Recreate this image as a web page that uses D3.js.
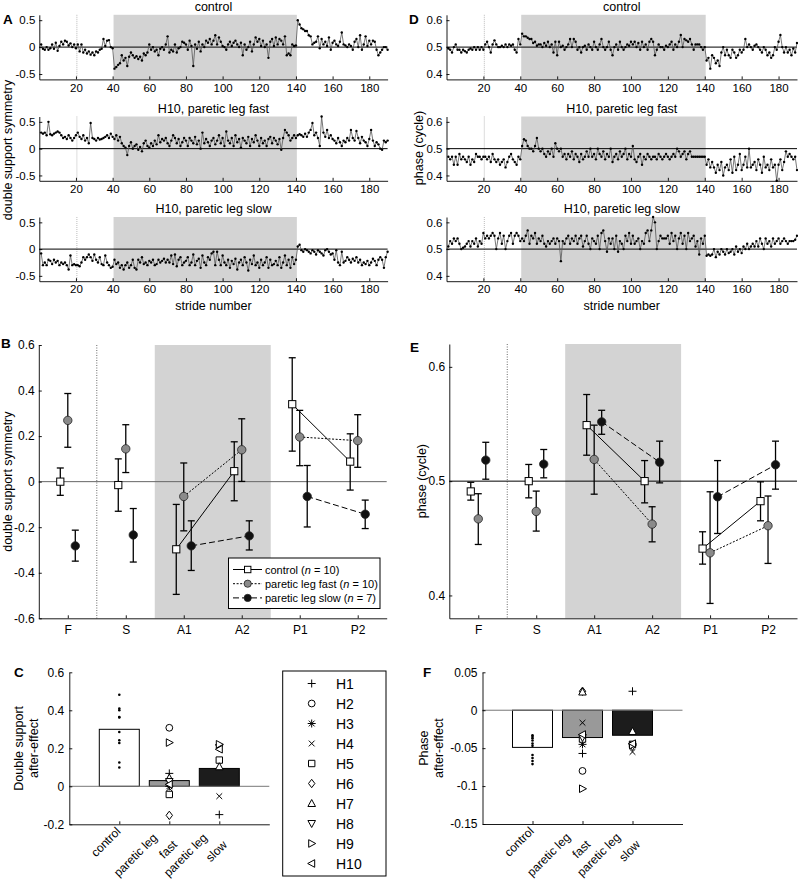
<!DOCTYPE html>
<html><head><meta charset="utf-8">
<script src="https://cdn.jsdelivr.net/npm/d3@7"></script>
<style>body{margin:0;background:#fff}text{font-family:"Liberation Sans",Arial,Helvetica,sans-serif;fill:#000}</style>
</head><body><svg id="c" width="798" height="883"></svg>
<script>
// ---------- DATA ----------
const strideTicks = [20,40,60,80,100,120,140,160,180];
const dsTicks = [-0.5,0,0.5];
const phTicks = [0.4,0.5,0.6];
const tsTitles = ["control","H10, paretic leg fast","H10, paretic leg slow"];

const dsControl = [0.05,-0.03,-0.05,0.0,-0.05,-0.02,0.05,-0.03,0.08,-0.07,0.02,0.1,0.05,0.12,0.1,0.03,0.07,0.0,0.05,-0.02,
0.05,-0.08,0.05,-0.1,-0.05,-0.12,-0.08,-0.14,-0.1,-0.15,-0.08,-0.1,-0.05,-0.03,0.15,0.02,0.12,0.13,0.0,-0.02,
-0.4,-0.37,-0.33,-0.3,-0.15,-0.25,-0.2,-0.35,-0.18,-0.1,-0.15,-0.2,-0.17,-0.22,-0.18,-0.25,-0.12,-0.15,-0.1,0.05,
-0.05,0.0,-0.08,-0.05,-0.15,-0.03,0.0,-0.05,0.05,0.2,-0.1,-0.05,-0.08,0.05,-0.1,-0.02,0.0,0.1,0.08,0.05,
-0.05,0.12,0.02,-0.35,0.05,-0.03,0.1,-0.08,0.05,0.0,0.12,0.08,0.15,0.05,0.12,0.22,0.05,0.18,0.1,0.02,
0.0,-0.05,0.05,0.1,0.02,0.08,0.12,0.05,0.0,0.08,-0.15,0.05,-0.05,0.0,0.1,-0.08,0.05,0.18,0.1,0.15,
0.02,0.12,0.0,0.05,-0.2,0.1,0.15,0.02,0.18,0.05,0.15,0.12,0.05,0.2,-0.15,-0.12,-0.15,0.05,0.02,0.03,
0.5,0.42,0.35,0.33,0.3,0.3,0.22,0.2,0.05,0.08,0.1,0.2,-0.02,0.15,0.05,0.1,0.02,0.18,-0.05,0.08,
0.12,0.05,0.02,0.1,0.27,0.05,0.03,0.0,0.05,0.02,-0.05,0.1,0.15,0.0,0.22,-0.05,0.05,0.2,0.02,0.12,
0.05,0.12,0.1,-0.05,-0.15,-0.1,-0.05,0.0,0.0,-0.05];

const dsFast = [0.3,0.28,0.3,0.25,0.5,0.27,0.25,0.28,0.3,0.32,0.3,0.25,0.2,0.22,0.18,0.25,0.2,0.15,0.2,0.25,
0.3,0.22,0.18,0.25,0.15,0.2,0.1,0.48,0.2,0.18,0.15,0.2,0.17,0.18,0.2,0.22,0.25,0.2,0.28,0.22,
0.18,0.25,0.15,0.22,0.1,0.05,0.02,-0.12,0.05,0.12,0.0,0.05,0.08,-0.02,0.03,-0.05,0.1,0.15,0.05,0.02,
0.1,0.05,0.15,0.08,0.25,0.12,0.18,0.15,0.2,0.1,0.05,0.15,0.25,0.2,0.1,0.18,0.05,0.12,0.2,0.15,
0.05,0.2,0.15,0.1,0.22,0.08,0.15,0.0,0.3,0.1,0.18,0.12,0.05,0.15,0.2,0.08,0.15,0.25,0.1,0.2,
0.05,0.32,0.15,0.1,0.2,0.05,0.25,0.12,0.18,0.02,0.2,0.15,0.1,0.22,0.05,0.18,0.12,0.25,0.15,0.05,
0.2,0.1,0.15,0.05,0.18,0.22,0.1,0.2,0.15,0.08,0.18,-0.02,0.2,0.35,0.3,0.25,0.15,0.2,0.25,0.2,
0.25,0.27,0.25,0.22,0.28,0.22,0.3,0.35,0.48,0.25,0.3,0.2,0.05,0.6,0.3,0.22,0.35,0.2,0.25,0.18,
0.15,0.1,0.2,0.12,0.05,0.15,0.12,0.2,0.15,0.35,0.2,0.15,0.33,0.2,0.1,0.22,0.15,0.12,0.05,0.18,
0.35,0.15,0.05,0.12,0.08,0.0,-0.02,0.15,0.12,0.15];

const dsSlow = [-0.08,-0.3,-0.25,-0.3,-0.2,-0.22,-0.28,-0.2,-0.25,-0.22,-0.3,-0.25,-0.28,-0.25,-0.3,-0.38,-0.12,-0.3,-0.28,-0.3,
-0.3,-0.32,-0.25,-0.15,-0.2,-0.15,-0.1,-0.15,-0.22,-0.1,-0.2,-0.25,-0.15,-0.28,-0.3,-0.12,-0.25,-0.3,-0.35,-0.33,
-0.2,-0.28,-0.25,-0.35,-0.3,-0.38,-0.3,-0.25,-0.35,-0.3,-0.2,-0.35,-0.38,-0.2,-0.25,-0.15,-0.28,-0.25,-0.3,-0.22,
-0.25,-0.2,-0.3,-0.28,-0.2,-0.25,-0.22,-0.18,-0.25,-0.2,-0.25,-0.12,-0.28,-0.1,-0.32,-0.2,-0.15,-0.3,-0.25,-0.22,
-0.15,-0.3,-0.25,-0.1,-0.3,-0.22,-0.18,-0.35,-0.12,-0.25,-0.3,-0.15,-0.2,-0.08,-0.05,-0.3,-0.05,-0.2,-0.3,-0.12,
-0.25,-0.3,-0.2,-0.35,-0.22,-0.28,-0.18,-0.38,-0.25,-0.2,-0.3,-0.15,-0.25,-0.4,-0.2,-0.28,-0.12,-0.3,-0.25,-0.35,
-0.2,-0.3,-0.25,-0.15,-0.35,-0.2,-0.3,-0.28,-0.22,-0.3,-0.15,-0.35,-0.25,-0.12,-0.3,-0.2,-0.35,-0.15,-0.28,-0.2,
0.05,0.08,-0.02,-0.05,0.0,-0.02,-0.05,-0.08,-0.02,-0.05,-0.1,-0.02,-0.05,-0.08,-0.12,-0.02,0.0,-0.05,-0.1,-0.08,
-0.2,-0.02,-0.25,-0.3,-0.05,-0.25,-0.22,-0.15,-0.2,-0.25,-0.18,-0.22,-0.15,-0.25,-0.2,-0.3,-0.25,-0.28,-0.22,-0.3,
-0.25,-0.18,-0.22,-0.3,-0.2,-0.15,-0.2,-0.35,-0.15,-0.05];

const phControl = [0.495,0.49,0.48,0.5,0.51,0.49,0.49,0.48,0.49,0.485,0.48,0.49,0.495,0.49,0.5,0.49,0.5,0.49,0.5,0.49,
0.51,0.52,0.5,0.48,0.51,0.525,0.51,0.5,0.5,0.505,0.5,0.51,0.5,0.51,0.505,0.51,0.49,0.48,0.53,0.51,
0.55,0.54,0.54,0.535,0.53,0.53,0.515,0.52,0.505,0.51,0.51,0.5,0.515,0.505,0.52,0.5,0.51,0.48,0.52,0.47,
0.52,0.5,0.505,0.49,0.5,0.51,0.53,0.5,0.53,0.52,0.49,0.5,0.48,0.5,0.505,0.49,0.51,0.5,0.49,0.52,
0.5,0.49,0.51,0.53,0.5,0.49,0.5,0.52,0.49,0.47,0.5,0.51,0.49,0.52,0.5,0.49,0.5,0.51,0.505,0.52,
0.51,0.52,0.5,0.515,0.49,0.52,0.5,0.51,0.49,0.52,0.53,0.52,0.47,0.49,0.51,0.5,0.5,0.49,0.505,0.5,
0.51,0.52,0.49,0.51,0.5,0.52,0.545,0.5,0.53,0.525,0.52,0.53,0.51,0.49,0.51,0.51,0.51,0.5,0.49,0.5,
0.45,0.46,0.42,0.47,0.46,0.44,0.45,0.43,0.48,0.5,0.47,0.49,0.47,0.46,0.49,0.48,0.46,0.47,0.49,0.48,
0.49,0.53,0.5,0.51,0.5,0.49,0.505,0.51,0.5,0.49,0.48,0.5,0.49,0.47,0.48,0.46,0.47,0.5,0.49,0.52,
0.545,0.5,0.48,0.5,0.48,0.49,0.47,0.495,0.48,0.515];

const phFast = [0.47,0.46,0.47,0.44,0.47,0.44,0.48,0.46,0.47,0.46,0.45,0.47,0.44,0.46,0.45,0.48,0.47,0.47,0.46,0.47,
0.47,0.46,0.47,0.45,0.48,0.46,0.45,0.46,0.44,0.45,0.46,0.43,0.45,0.47,0.48,0.46,0.45,0.44,0.47,0.46,
0.51,0.535,0.53,0.51,0.5,0.5,0.49,0.51,0.54,0.5,0.49,0.5,0.48,0.47,0.49,0.48,0.5,0.47,0.52,0.5,
0.49,0.5,0.47,0.48,0.46,0.48,0.47,0.49,0.46,0.48,0.47,0.45,0.48,0.46,0.47,0.49,0.47,0.5,0.47,0.48,
0.46,0.5,0.48,0.47,0.49,0.46,0.48,0.47,0.5,0.45,0.47,0.48,0.46,0.49,0.47,0.48,0.5,0.46,0.48,0.47,
0.51,0.46,0.45,0.47,0.48,0.44,0.47,0.46,0.48,0.47,0.46,0.47,0.47,0.46,0.48,0.47,0.46,0.47,0.48,0.47,
0.46,0.47,0.48,0.47,0.5,0.49,0.47,0.48,0.49,0.46,0.48,0.49,0.47,0.47,0.47,0.47,0.47,0.47,0.47,0.47,
0.44,0.46,0.43,0.45,0.43,0.41,0.44,0.42,0.45,0.4,0.43,0.44,0.42,0.46,0.41,0.47,0.42,0.44,0.48,0.42,
0.44,0.47,0.43,0.5,0.43,0.44,0.45,0.42,0.46,0.44,0.41,0.47,0.43,0.44,0.42,0.46,0.43,0.44,0.38,0.44,
0.46,0.42,0.45,0.49,0.47,0.48,0.47,0.46,0.47,0.42];

const phSlow = [0.51,0.53,0.52,0.54,0.53,0.54,0.52,0.5,0.505,0.51,0.52,0.53,0.51,0.53,0.52,0.54,0.51,0.53,0.52,0.56,
0.54,0.55,0.54,0.55,0.56,0.55,0.5,0.54,0.56,0.52,0.55,0.5,0.53,0.55,0.56,0.52,0.55,0.56,0.55,0.53,
0.54,0.53,0.55,0.57,0.52,0.55,0.54,0.56,0.52,0.54,0.53,0.55,0.52,0.51,0.53,0.52,0.53,0.54,0.52,0.54,
0.53,0.455,0.53,0.52,0.54,0.55,0.52,0.54,0.53,0.55,0.52,0.54,0.55,0.51,0.53,0.55,0.52,0.5,0.54,0.53,
0.52,0.55,0.5,0.56,0.57,0.53,0.49,0.54,0.52,0.54,0.5,0.55,0.49,0.53,0.52,0.5,0.55,0.53,0.56,0.52,
0.55,0.52,0.53,0.54,0.5,0.53,0.52,0.56,0.57,0.53,0.57,0.62,0.6,0.5,0.53,0.55,0.54,0.54,0.54,0.55,
0.52,0.56,0.53,0.55,0.5,0.54,0.56,0.52,0.55,0.5,0.56,0.53,0.54,0.55,0.51,0.53,0.48,0.54,0.52,0.55,
0.475,0.48,0.475,0.48,0.5,0.47,0.49,0.48,0.5,0.49,0.48,0.5,0.485,0.49,0.5,0.48,0.51,0.49,0.5,0.485,
0.51,0.5,0.52,0.5,0.51,0.52,0.51,0.53,0.51,0.54,0.52,0.5,0.54,0.52,0.53,0.51,0.54,0.52,0.53,0.54,
0.52,0.53,0.54,0.53,0.52,0.53,0.53,0.53,0.535,0.55];

// Panels B / E: group means and error-bar ends
const phases = ["F","S","A1","A2","P1","P2"];
const grpNames = ["control","paretic leg fast","paretic leg slow"];
const grpN = [10,10,7];
const bControlMean = [0.00,-0.015,-0.297,0.046,0.34,0.088];
const bControlHi   = [0.06,0.10,-0.10,0.175,0.544,0.21];
const bControlLo   = [-0.06,-0.13,-0.495,-0.084,0.134,-0.037];
const bFastMean = [0.269,0.144,-0.065,0.14,0.196,0.18];
const bFastHi   = [0.387,0.25,0.082,0.276,0.313,0.294];
const bFastLo   = [0.151,0.04,-0.216,0.001,0.07,0.063];
const bSlowMean = [-0.282,-0.234,-0.282,-0.238,-0.065,-0.143];
const bSlowHi   = [-0.213,-0.118,-0.172,-0.172,0.071,-0.081];
const bSlowLo   = [-0.349,-0.353,-0.39,-0.30,-0.199,-0.206];
const bTicks = [-0.6,-0.4,-0.2,0,0.2,0.4,0.6];

const eControlMean = [0.491,0.5,0.549,0.5,0.441,0.4825];
const eControlHi   = [0.499,0.5146,0.5758,0.518,0.4557,0.4994];
const eControlLo   = [0.4834,0.4854,0.5227,0.481,0.4274,0.4653];
const eFastMean = [0.467,0.4735,0.519,0.4624,0.4373,0.461];
const eFastHi   = [0.489,0.4913,0.549,0.4776,0.4907,0.487];
const eFastLo   = [0.4446,0.4563,0.4886,0.4469,0.393,0.428];
const eSlowMean = [0.5184,0.5149,0.5519,0.5166,0.4863,0.5143];
const eSlowHi   = [0.534,0.5277,0.562,0.535,0.518,0.535];
const eSlowLo   = [0.5017,0.5029,0.541,0.4985,0.4542,0.493];
const eTicks = [0.4,0.5,0.6];

// Panels C / F: after-effects
const aeGroups = [["control"],["paretic leg","fast"],["paretic leg","slow"]];
const subjects = ["H1","H2","H3","H4","H5","H6","H7","H8","H9","H10"];
const slowSubjects = ["H1","H4","H5","H7","H8","H9","H10"];
const cBars = [0.30,0.03,0.094];
const cControlPts = [0.482,0.409,0.40,0.362,0.365,0.286,0.242,0.228,0.125,0.099];
const cFastPts = [0.068,0.308,0.0,-0.01,-0.043,-0.153,0.044,0.025,0.23,0.01];
const cSlowPts = [-0.149,-0.052,0.138,0.103,0.204,0.221,0.195];
const cTicks = [-0.2,0,0.2,0.4,0.6];
const fBars = [-0.049,-0.036,-0.033];
const fControlPts = [-0.033,-0.035,-0.037,-0.04,-0.044,-0.047,-0.059,-0.063,-0.067,-0.071];
const fFastPts = [-0.057,-0.08,-0.045,-0.0165,-0.038,0.025,0.024,-0.036,-0.1035,-0.032];
const fSlowPts = [0.025,-0.055,-0.045,-0.028,-0.048,-0.046,-0.044];
const fTicks = [-0.15,-0.1,-0.05,0,0.05];

// ---------- DRAWING ----------
const svg = d3.select("#c");
const SHADE = "#d3d3d3";
function tickFmt(v){ if (Math.abs(v) < 1e-9) return "0"; return (v<0?"-":"") + String(+Math.abs(v).toFixed(3)); }

function styleAxis(g){
  g.selectAll("path.domain").attr("stroke","#000").attr("stroke-width",0.9);
  g.selectAll(".tick line").attr("stroke","#000").attr("stroke-width",0.9);
  g.selectAll(".tick text").attr("fill","#000").style("font-family",'"Liberation Sans",Arial,sans-serif');
}

function panelLetter(x,y,t){
  svg.append("text").attr("x",x).attr("y",y).attr("font-size",13.5).attr("font-weight","bold").text(t);
}

function timeSeries(o){
  const g = svg.append("g");
  const xs = d3.scaleLinear([0,190],[o.x0,o.x1]);
  const ys = d3.scaleLinear(o.dom,[o.yb,o.yt]);
  g.append("rect").attr("x",xs(40.5)).attr("y",o.yt).attr("width",xs(140.5)-xs(40.5)).attr("height",o.yb-o.yt).attr("fill",SHADE);
  g.append("line").attr("x1",xs(20.5)).attr("x2",xs(20.5)).attr("y1",o.yt).attr("y2",o.yb)
    .attr("stroke","#aaa").attr("stroke-width",0.8).attr("stroke-dasharray","1,1");
  g.append("line").attr("x1",o.x0).attr("x2",o.x1).attr("y1",ys(o.ref)).attr("y2",ys(o.ref)).attr("stroke","#000").attr("stroke-width",1);
  const line = d3.line().x((d,i)=>xs(i+1)).y(d=>ys(d));
  g.append("path").attr("d",line(o.data)).attr("fill","none").attr("stroke","#555").attr("stroke-width",0.8);
  g.selectAll("circle.pt").data(o.data).join("circle").attr("cx",(d,i)=>xs(i+1)).attr("cy",d=>ys(d)).attr("r",1.2).attr("fill","#000");
  const ax = g.append("g").attr("transform",`translate(0,${o.yb})`)
    .call(d3.axisBottom(xs).tickValues(strideTicks).tickSize(-3).tickSizeOuter(0).tickPadding(4));
  ax.selectAll(".tick text").attr("font-size",11.5);
  styleAxis(ax);
  const ay = g.append("g").attr("transform",`translate(${o.x0},0)`)
    .call(d3.axisLeft(ys).tickValues(o.ticks).tickFormat(tickFmt).tickSize(-3).tickSizeOuter(0).tickPadding(4));
  ay.selectAll(".tick text").attr("font-size",11.5);
  styleAxis(ay);
  g.append("text").attr("x",(o.x0+o.x1)/2).attr("y",o.yt-4).attr("text-anchor","middle").attr("font-size",12.5).text(o.title);
  if (o.xlabel) g.append("text").attr("x",(o.x0+o.x1)/2).attr("y",o.yb+29).attr("text-anchor","middle").attr("font-size",12.5).text(o.xlabel);
}

const rows = [[14.8,79.4],[116.5,180.8],[217,281.2]];
const dsSeries = [dsControl,dsFast,dsSlow];
const phSeries = [phControl,phFast,phSlow];
rows.forEach((r,i)=>{
  timeSeries({x0:39.3,x1:387.6,yt:r[0],yb:r[1],dom:[-0.6,0.6],ticks:dsTicks,ref:0,data:dsSeries[i],title:tsTitles[i],xlabel:i===2?"stride number":null});
  timeSeries({x0:446.5,x1:797,yt:r[0],yb:r[1],dom:[0.38,0.62],ticks:phTicks,ref:0.5,data:phSeries[i],title:tsTitles[i],xlabel:i===2?"stride number":null});
});
svg.append("text").attr("transform","translate(12,150) rotate(-90)").attr("text-anchor","middle").attr("font-size",12.5).text("double support symmetry");
svg.append("text").attr("transform","translate(423,148) rotate(-90)").attr("text-anchor","middle").attr("font-size",12.5).text("phase (cycle)");
panelLetter(3,24,"A");
panelLetter(409,24,"D");

function drawGroupMarker(g,type,x,y){
  if (type==="square") g.append("rect").attr("x",x-3.6).attr("y",y-3.6).attr("width",7.2).attr("height",7.2).attr("fill","#fff").attr("stroke","#000").attr("stroke-width",1);
  else g.append("circle").attr("cx",x).attr("cy",y).attr("r",4.2).attr("fill",type==="grey"?"#8a8a8a":"#111").attr("stroke","#222").attr("stroke-width",0.8);
}

function groupPanel(o){
  const g = svg.append("g");
  const xs = d3.scaleLinear([0.5,6.5],[o.x0,o.x1]);
  const ys = d3.scaleLinear(o.dom,[o.yb,o.yt]);
  g.append("rect").attr("x",xs(2.5)).attr("y",o.yt).attr("width",xs(4.5)-xs(2.5)).attr("height",o.yb-o.yt).attr("fill",SHADE);
  g.append("line").attr("x1",xs(1.5)).attr("x2",xs(1.5)).attr("y1",o.yt).attr("y2",o.yb).attr("stroke","#444").attr("stroke-width",0.8).attr("stroke-dasharray","1,1.5");
  g.append("line").attr("x1",o.x0).attr("x2",o.x1).attr("y1",ys(o.ref)).attr("y2",ys(o.ref)).attr("stroke",o.refColor).attr("stroke-width",1);
  const series = o.series;
  series.forEach(s=>{
    [[2,3],[4,5]].forEach(([a,b])=>{
      g.append("line").attr("x1",xs(a+1)+s.off).attr("x2",xs(b+1)+s.off).attr("y1",ys(s.mean[a])).attr("y2",ys(s.mean[b]))
        .attr("stroke","#000").attr("stroke-width",1).attr("stroke-dasharray",s.dash);
    });
  });
  series.forEach(s=>{
    s.mean.forEach((m,i)=>{
      const x = xs(i+1)+s.off;
      g.append("line").attr("x1",x).attr("x2",x).attr("y1",ys(s.hi[i])).attr("y2",ys(s.lo[i])).attr("stroke","#000").attr("stroke-width",1.3);
      [s.hi[i],s.lo[i]].forEach(v=>g.append("line").attr("x1",x-3.5).attr("x2",x+3.5).attr("y1",ys(v)).attr("y2",ys(v)).attr("stroke","#000").attr("stroke-width",1.3));
    });
  });
  series.forEach(s=>{ s.mean.forEach((m,i)=>drawGroupMarker(g,s.type,xs(i+1)+s.off,ys(m))); });
  const ax = g.append("g").attr("transform",`translate(0,${o.yb})`)
    .call(d3.axisBottom(xs).tickValues([1,2,3,4,5,6]).tickFormat((d,i)=>phases[i]).tickSize(-3).tickSizeOuter(0).tickPadding(7));
  ax.selectAll(".tick text").attr("font-size",12);
  styleAxis(ax);
  const ay = g.append("g").attr("transform",`translate(${o.x0},0)`)
    .call(d3.axisLeft(ys).tickValues(o.ticks).tickFormat(tickFmt).tickSize(-3).tickSizeOuter(0).tickPadding(4));
  ay.selectAll(".tick text").attr("font-size",12);
  styleAxis(ay);
  g.append("text").attr("transform",`translate(${o.ylx},${(o.yt+o.yb)/2}) rotate(-90)`).attr("text-anchor","middle").attr("font-size",12.5).text(o.ylabel);
}

const off = 7.5;
groupPanel({x0:38.8,x1:386.7,yt:345,yb:618.3,dom:[-0.6,0.6],ticks:bTicks,ref:0,refColor:"#666",ylx:12,ylabel:"double support symmetry",
  series:[
    {mean:bControlMean,hi:bControlHi,lo:bControlLo,off:-off,type:"square",dash:null},
    {mean:bFastMean,hi:bFastHi,lo:bFastLo,off:0,type:"grey",dash:"2,1.6"},
    {mean:bSlowMean,hi:bSlowHi,lo:bSlowLo,off:off,type:"black",dash:"6,3"}]});
groupPanel({x0:449.3,x1:797,yt:344,yb:618.3,dom:[0.38,0.62],ticks:eTicks,ref:0.5,refColor:"#000",ylx:426,ylabel:"phase (cycle)",
  series:[
    {mean:eControlMean,hi:eControlHi,lo:eControlLo,off:-off,type:"square",dash:null},
    {mean:eFastMean,hi:eFastHi,lo:eFastLo,off:0,type:"grey",dash:"2,1.6"},
    {mean:eSlowMean,hi:eSlowHi,lo:eSlowLo,off:off,type:"black",dash:"6,3"}]});
panelLetter(1,348,"B");
panelLetter(410,352,"E");

// legend B
{
  const lg = svg.append("g");
  lg.append("rect").attr("x",228.5).attr("y",558).attr("width",151.5).attr("height",50.5).attr("fill","#fff").attr("stroke","#000").attr("stroke-width",1);
  const types = ["square","grey","black"], dashes=[null,"2,1.6","6,3"];
  grpNames.forEach((nm,i)=>{
    const y = 569.5 + i*14.2;
    lg.append("line").attr("x1",233).attr("x2",262).attr("y1",y).attr("y2",y).attr("stroke","#000").attr("stroke-width",1).attr("stroke-dasharray",dashes[i]);
    if (types[i]==="square") lg.append("rect").attr("x",244.5).attr("y",y-3.2).attr("width",6.4).attr("height",6.4).attr("fill","#fff").attr("stroke","#000");
    else lg.append("circle").attr("cx",247.7).attr("cy",y).attr("r",3.6).attr("fill",types[i]==="grey"?"#8a8a8a":"#111").attr("stroke","#222").attr("stroke-width",0.8);
    const t = lg.append("text").attr("x",265).attr("y",y+4).attr("font-size",11);
    t.append("tspan").text(nm+" (");
    t.append("tspan").attr("font-style","italic").text("n");
    t.append("tspan").text(" = "+grpN[i]+")");
  });
}

function symPath(k,s){
  const a = s*0.72;
  switch(k){
    case 0: return `M${-s},0H${s}M0,${-s}V${s}`;
    case 2: return `M${-s},0H${s}M0,${-s}V${s}M${-a},${-a}L${a},${a}M${-a},${a}L${a},${-a}`;
    case 3: return `M${-a},${-a}L${a},${a}M${-a},${a}L${a},${-a}`;
    case 4: return `M${-s*0.8},${-s*0.8}H${s*0.8}V${s*0.8}H${-s*0.8}Z`;
    case 5: return `M0,${-s*1.05}L${s*0.8},0L0,${s*1.05}L${-s*0.8},0Z`;
    case 6: return `M0,${-s}L${s*0.95},${s*0.75}L${-s*0.95},${s*0.75}Z`;
    case 7: return `M0,${s}L${s*0.95},${-s*0.75}L${-s*0.95},${-s*0.75}Z`;
    case 8: return `M${s},0L${-s*0.75},${s*0.95}L${-s*0.75},${-s*0.95}Z`;
    case 9: return `M${-s},0L${s*0.75},${s*0.95}L${s*0.75},${-s*0.95}Z`;
  }
}
function drawSym(g,k,x,y,s){
  const open = [4,5,6,7,8,9].includes(k);
  if (k===1) g.append("circle").attr("cx",x).attr("cy",y).attr("r",s*0.85).attr("fill","#fff").attr("stroke","#000").attr("stroke-width",1);
  else g.append("path").attr("transform",`translate(${x},${y})`).attr("d",symPath(k,s)).attr("fill",open?"#fff":"none").attr("stroke","#000").attr("stroke-width",1);
}

function aePanel(o){
  const g = svg.append("g");
  const xs = d3.scaleLinear([0,4],[o.x0,o.x1]);
  const ys = d3.scaleLinear(o.dom,[o.yb,o.yt]);
  const fills = ["#fff","#999","#1c1c1c"];
  o.bars.forEach((v,i)=>{
    g.append("rect").attr("x",xs(i+1-0.4)).attr("width",xs(1.4)-xs(0.6))
      .attr("y",Math.min(ys(v),ys(0))).attr("height",Math.abs(ys(v)-ys(0))).attr("fill",fills[i]).attr("stroke","#000").attr("stroke-width",1);
  });
  g.append("line").attr("x1",o.x0).attr("x2",o.x1).attr("y1",ys(0)).attr("y2",ys(0)).attr("stroke","#777").attr("stroke-width",1);
  o.ctrl.forEach(v=>g.append("circle").attr("cx",xs(1)).attr("cy",ys(v)).attr("r",1.3).attr("fill","#000"));
  o.fast.forEach((v,i)=>drawSym(g,i,xs(2),ys(v),4));
  o.slow.forEach((v,i)=>drawSym(g,subjects.indexOf(slowSubjects[i]),xs(3),ys(v),4));
  const ax = g.append("g").attr("transform",`translate(0,${o.yb})`)
    .call(d3.axisBottom(xs).tickValues([1,2,3]).tickFormat("").tickSize(-3).tickSizeOuter(0));
  styleAxis(ax);
  const ay = g.append("g").attr("transform",`translate(${o.x0},0)`)
    .call(d3.axisLeft(ys).tickValues(o.ticks).tickFormat(tickFmt).tickSize(-3).tickSizeOuter(0).tickPadding(5));
  ay.selectAll(".tick text").attr("font-size",12);
  styleAxis(ay);
  // rotated category labels (line positions in the rotated frame)
  const pos1 = [[-4,7]], pos2 = [[-18,2],[-9,21]];
  aeGroups.forEach((lines,i)=>{
    const t = g.append("g").attr("transform",`translate(${xs(i+1)},${o.yb}) rotate(-45)`);
    const ps = lines.length===1 ? pos1 : pos2;
    lines.forEach((ln,j)=>{
      t.append("text").attr("x",ps[j][0]).attr("y",ps[j][1]).attr("text-anchor","end").attr("font-size",12).text(ln);
    });
  });
  o.ylabel.forEach((ln,j)=>{
    g.append("text").attr("transform",`translate(${o.ylx+j*15},${(o.yt+o.yb)/2}) rotate(-90)`).attr("text-anchor","middle").attr("font-size",12.5).text(ln);
  });
}
aePanel({x0:69.3,x1:269.3,yt:672.3,yb:824.3,dom:[-0.2,0.6],ticks:cTicks,bars:cBars,ctrl:cControlPts,fast:cFastPts,slow:cSlowPts,ylx:23,ylabel:["Double support","after-effect"]});
aePanel({x0:482.5,x1:682.5,yt:672.3,yb:824,dom:[-0.15,0.05],ticks:fTicks,bars:fBars,ctrl:fControlPts,fast:fFastPts,slow:fSlowPts,ylx:428,ylabel:["Phase","after-effect"]});
panelLetter(14,677,"C");
panelLetter(423,677,"F");

// subject legend
{
  const lg = svg.append("g");
  lg.append("rect").attr("x",282.7).attr("y",671).attr("width",103.3).attr("height",205).attr("fill","#fff").attr("stroke","#000").attr("stroke-width",1);
  subjects.forEach((s,i)=>{
    const y = 683.5 + i*20;
    drawSym(lg,i,311.7,y,4);
    lg.append("text").attr("x",336).attr("y",y+5).attr("font-size",14).text(s);
  });
}
</script></body></html>
